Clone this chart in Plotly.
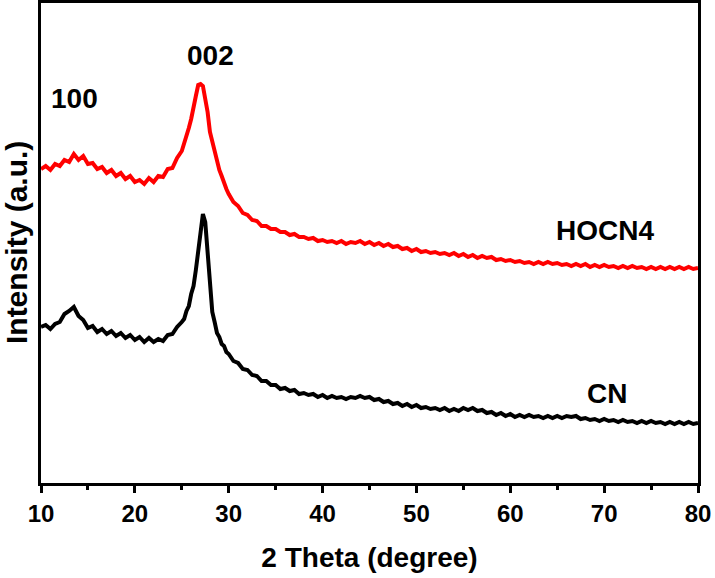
import plotly.graph_objects as go

FONT = "Liberation Sans, Arial, sans-serif"

# 2 theta (degree) sampling positions
two_theta = [10, 10.5, 11, 11.5, 12, 12.5, 13, 13.5, 14, 14.5, 15, 15.5, 16, 16.5, 17, 17.5,
             18, 18.5, 19, 19.5, 20, 20.5, 21, 21.5, 22, 22.5, 23, 23.5, 24, 24.5,
             25, 25.25, 25.5, 25.75, 26, 26.25, 26.5, 26.75, 27, 27.25, 27.5, 27.75,
             28, 28.25, 28.5, 28.75, 29, 29.25, 29.5, 29.75,
             30, 30.5, 31, 31.5, 32, 32.5, 33, 33.5, 34, 34.5, 35, 35.5, 36, 36.5, 37, 37.5,
             38, 38.5, 39, 39.5, 40, 40.5, 41, 41.5, 42, 42.5, 43, 43.5, 44, 44.5, 45, 45.5,
             46, 46.5, 47, 47.5, 48, 48.5, 49, 49.5, 50, 50.5, 51, 51.5, 52, 52.5, 53, 53.5,
             54, 54.5, 55, 55.5, 56, 56.5, 57, 57.5, 58, 58.5, 59, 59.5, 60, 60.5, 61, 61.5,
             62, 62.5, 63, 63.5, 64, 64.5, 65, 65.5, 66, 66.5, 67, 67.5, 68, 68.5, 69, 69.5,
             70, 70.5, 71, 71.5, 72, 72.5, 73, 73.5, 74, 74.5, 75, 75.5, 76, 76.5, 77, 77.5,
             78, 78.5, 79, 79.5, 80]

# HOCN4 intensity (a.u.)
hocn4 = [314, 317, 313, 319, 317, 323, 321, 329, 323, 327, 319, 320, 314, 316, 310, 313,
         307, 310, 304, 307, 301, 303, 299, 305, 301, 307, 306, 314, 315, 325,
         332, 339, 345, 355, 364, 378, 387, 398, 399, 397, 384, 371,
         351, 341, 329, 322, 313, 307, 299, 294,
         289, 281, 277, 270, 268, 263, 262, 257, 257, 254, 254, 251, 251, 248, 249, 246,
         246, 244, 245, 242, 243, 241, 242, 240, 242, 239, 241, 240, 242, 239, 241, 238,
         240, 237, 239, 236, 237, 234, 235, 232, 234, 231, 232, 230, 231, 229, 230, 228,
         230, 227, 229, 226, 228, 225, 227, 225, 226, 223, 224, 222, 223, 221, 222, 220,
         221, 219, 221, 219, 221, 219, 220, 218, 219, 217, 219, 217, 219, 216, 218, 216,
         218, 216, 217, 215, 217, 215, 217, 215, 216, 214, 216, 214, 216, 214, 216, 214,
         216, 214, 216, 214, 215]

# CN intensity (a.u.)
cn = [156, 158, 154, 159, 161, 169, 172, 176, 167, 163, 155, 157, 151, 154, 149, 152,
      147, 150, 145, 148, 143, 146, 141, 145, 141, 144, 142, 148, 149, 156,
      161, 164, 172, 177, 189, 197, 213, 231, 256, 269, 261, 227,
      196, 171, 161, 150, 146, 139, 137, 131,
      129, 122, 120, 114, 113, 108, 107, 102, 102, 98, 98, 94, 95, 92, 93, 89,
      90, 88, 89, 86, 88, 85, 87, 85, 86, 84, 86, 85, 87, 85, 86, 83,
      84, 81, 82, 79, 80, 77, 79, 76, 78, 75, 76, 74, 75, 73, 75, 72,
      74, 72, 75, 73, 75, 72, 73, 70, 71, 68, 70, 67, 69, 66, 68, 66,
      68, 66, 67, 65, 67, 65, 67, 65, 67, 66, 67, 64, 65, 63, 64, 62,
      64, 62, 63, 61, 63, 61, 62, 60, 62, 60, 62, 60, 61, 59, 61, 59,
      61, 59, 61, 59, 60]

labels = [("100", 13.6, 385), ("002", 28.1, 428), ("HOCN4", 70.1, 253), ("CN", 70.3, 90)]

fig = go.Figure()
fig.add_trace(go.Scatter(x=two_theta, y=hocn4, mode="lines", name="HOCN4",
                         line=dict(color="#FF0000", width=4)))
fig.add_trace(go.Scatter(x=two_theta, y=cn, mode="lines", name="CN",
                         line=dict(color="#000000", width=4)))

for text, x, y in labels:
    fig.add_annotation(x=x, y=y, text=f"<b>{text}</b>", showarrow=False,
                       font=dict(family=FONT, size=28, color="black"))

fig.add_annotation(xref="paper", yref="paper", x=-0.038, y=0.5, text="<b>Intensity (a.u.)</b>",
                   textangle=-90, showarrow=False, xanchor="center", yanchor="middle",
                   font=dict(family=FONT, size=30, color="black"))

fig.update_layout(
    width=715, height=578,
    margin=dict(l=41, r=17, t=3, b=95),
    plot_bgcolor="white", paper_bgcolor="white",
    showlegend=False,
    xaxis=dict(range=[10, 80], dtick=10, showline=True, linecolor="black", linewidth=2.5,
               mirror=True, ticks="outside", ticklen=7, tickwidth=2.5, tickcolor="black",
               minor=dict(dtick=5, ticks="outside", ticklen=4, tickwidth=2.5, tickcolor="black"),
               showgrid=False, zeroline=False, automargin=False,
               tickfont=dict(family=FONT, size=24, color="black", weight="bold"),
               title=dict(text="<b>2 Theta (degree)</b>", standoff=22,
                          font=dict(family=FONT, size=28, color="black"))),
    yaxis=dict(range=[0, 480], showline=True, linecolor="black", linewidth=2.5, mirror=True,
               showticklabels=False, ticks="", showgrid=False, zeroline=False, automargin=False),
)

fig.write_html("out.html", config={"displayModeBar": False},
               post_script="document.body.style.margin='0';")
